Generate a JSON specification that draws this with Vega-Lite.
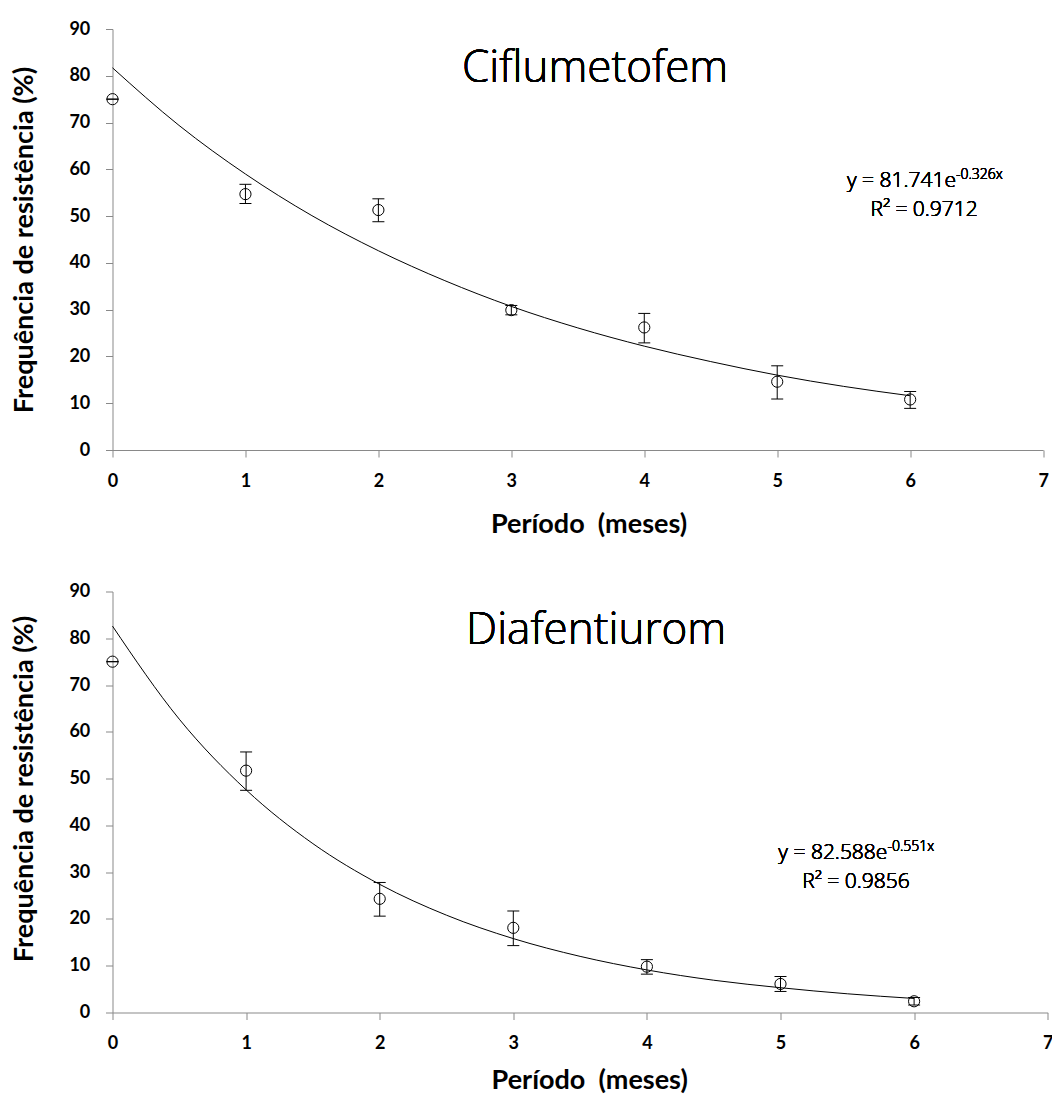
{
  "$schema": "https://vega.github.io/schema/vega-lite/v6.json",
  "padding": {"left": 9.5, "top": 20, "right": 0, "bottom": 0},
  "bounds": "flush",
  "spacing": 141.5,
  "datasets": {
    "cif_pts": [
      {"x": 0, "y": 75.0, "lo": 75.0, "hi": 75.0},
      {"x": 1, "y": 54.7, "lo": 52.7, "hi": 56.8},
      {"x": 2, "y": 51.3, "lo": 48.8, "hi": 53.7},
      {"x": 3, "y": 29.9, "lo": 28.9, "hi": 30.9},
      {"x": 4, "y": 26.2, "lo": 22.9, "hi": 29.2},
      {"x": 5, "y": 14.6, "lo": 10.9, "hi": 18.0},
      {"x": 6, "y": 10.8, "lo": 8.9, "hi": 12.5}
    ],
    "cif_fit": [
      {"x": 0, "fit": 81.7}, {"x": 0.5, "fit": 69.4}, {"x": 1, "fit": 59.0},
      {"x": 1.5, "fit": 50.1}, {"x": 2, "fit": 42.6}, {"x": 2.5, "fit": 36.2},
      {"x": 3, "fit": 30.7}, {"x": 3.5, "fit": 26.1}, {"x": 4, "fit": 22.2},
      {"x": 4.5, "fit": 18.9}, {"x": 5, "fit": 16.0}, {"x": 5.5, "fit": 13.6},
      {"x": 6, "fit": 11.6}
    ],
    "dia_pts": [
      {"x": 0, "y": 75.0, "lo": 75.0, "hi": 75.0},
      {"x": 1, "y": 51.7, "lo": 47.5, "hi": 55.7},
      {"x": 2, "y": 24.3, "lo": 20.6, "hi": 27.8},
      {"x": 3, "y": 18.1, "lo": 14.3, "hi": 21.7},
      {"x": 4, "y": 9.8, "lo": 8.2, "hi": 11.3},
      {"x": 5, "y": 6.1, "lo": 4.5, "hi": 7.7},
      {"x": 6, "y": 2.4, "lo": 1.6, "hi": 3.2}
    ],
    "dia_fit": [
      {"x": 0, "fit": 82.6}, {"x": 0.5, "fit": 62.7}, {"x": 1, "fit": 47.6},
      {"x": 1.5, "fit": 36.1}, {"x": 2, "fit": 27.4}, {"x": 2.5, "fit": 20.8},
      {"x": 3, "fit": 15.8}, {"x": 3.5, "fit": 12.0}, {"x": 4, "fit": 9.1},
      {"x": 4.5, "fit": 6.9}, {"x": 5, "fit": 5.3}, {"x": 5.5, "fit": 4.0},
      {"x": 6, "fit": 3.0}
    ]
  },
  "vconcat": [
    {
      "width": 930.6,
      "height": 421,
      "layer": [
        {
          "data": {"name": "cif_fit"},
          "mark": {"type": "line", "interpolate": "monotone", "color": "#000000", "strokeWidth": 1},
          "encoding": {
            "x": {"field": "x", "type": "quantitative", "scale": {"domain": [0, 7], "nice": false},
              "axis": {"values": [0, 1, 2, 3, 4, 5, 6, 7], "format": "d", "title": "Período\u00a0 (meses)", "titleX": 476, "titleY": 82.6, "titleBaseline": "alphabetic", "titleAlign": "center", "labelPadding": 24.8}},
            "y": {"field": "fit", "type": "quantitative", "scale": {"domain": [0, 90], "nice": false},
              "axis": {"values": [0, 10, 20, 30, 40, 50, 60, 70, 80, 90], "format": "d", "title": "Frequência de resistência (%)", "titleX": -88.2, "titleY": 210.5, "titleAngle": 270, "titleBaseline": "middle", "titleAlign": "center"}}
          }
        },
        {
          "data": {"name": "cif_pts"},
          "mark": {"type": "rule", "color": "#000000", "strokeWidth": 1},
          "encoding": {
            "x": {"field": "x", "type": "quantitative"},
            "y": {"field": "lo", "type": "quantitative"},
            "y2": {"field": "hi"}
          }
        },
        {
          "data": {"name": "cif_pts"},
          "mark": {"type": "tick", "orient": "horizontal", "size": 12, "thickness": 1, "color": "#000000", "opacity": 1},
          "encoding": {
            "x": {"field": "x", "type": "quantitative"},
            "y": {"field": "lo", "type": "quantitative"}
          }
        },
        {
          "data": {"name": "cif_pts"},
          "mark": {"type": "tick", "orient": "horizontal", "size": 12, "thickness": 1, "color": "#000000", "opacity": 1},
          "encoding": {
            "x": {"field": "x", "type": "quantitative"},
            "y": {"field": "hi", "type": "quantitative"}
          }
        },
        {
          "data": {"name": "cif_pts"},
          "mark": {"type": "point", "shape": "circle", "filled": false, "size": 125, "stroke": "#000000", "strokeWidth": 1, "opacity": 1},
          "encoding": {
            "x": {"field": "x", "type": "quantitative"},
            "y": {"field": "y", "type": "quantitative"}
          }
        },
        {
          "data": {"name": "cif_pts"},
          "mark": {"type": "text", "font": "Open Sans", "fontWeight": 300, "fontSize": 44, "align": "center", "baseline": "alphabetic", "color": "#000000"},
          "encoding": {
            "x": {"datum": 3.63, "type": "quantitative"},
            "y": {"datum": 78.6, "type": "quantitative"},
            "text": {"value": "Ciflumetofem"}
          }
        },
        {
          "data": {"name": "cif_pts"},
          "mark": {"type": "text", "font": "Open Sans", "fontWeight": 300, "fontSize": 21, "align": "right", "baseline": "alphabetic", "color": "#000000"},
          "encoding": {
            "x": {"datum": 6.345, "type": "quantitative"},
            "y": {"datum": 56.2, "type": "quantitative"},
            "text": {"value": "y = 81.741e"}
          }
        },
        {
          "data": {"name": "cif_pts"},
          "mark": {"type": "text", "font": "Open Sans", "fontWeight": 300, "fontSize": 14, "align": "left", "baseline": "alphabetic", "color": "#000000"},
          "encoding": {
            "x": {"datum": 6.345, "type": "quantitative"},
            "y": {"datum": 58.0, "type": "quantitative"},
            "text": {"value": "-0.326x"}
          }
        },
        {
          "data": {"name": "cif_pts"},
          "mark": {"type": "text", "font": "Open Sans", "fontWeight": 300, "fontSize": 21, "align": "center", "baseline": "alphabetic", "color": "#000000"},
          "encoding": {
            "x": {"datum": 6.105, "type": "quantitative"},
            "y": {"datum": 50.1, "type": "quantitative"},
            "text": {"value": "R² = 0.9712"}
          }
        }
      ]
    },
    {
      "width": 935.2,
      "height": 421,
      "layer": [
        {
          "data": {"name": "dia_fit"},
          "mark": {"type": "line", "interpolate": "monotone", "color": "#000000", "strokeWidth": 1},
          "encoding": {
            "x": {"field": "x", "type": "quantitative", "scale": {"domain": [0, 7], "nice": false},
              "axis": {"values": [0, 1, 2, 3, 4, 5, 6, 7], "format": "d", "title": "Período\u00a0 (meses)", "titleX": 476.7, "titleY": 76, "titleBaseline": "alphabetic", "titleAlign": "center", "labelPadding": 23.8}},
            "y": {"field": "fit", "type": "quantitative", "scale": {"domain": [0, 90], "nice": false},
              "axis": {"values": [0, 10, 20, 30, 40, 50, 60, 70, 80, 90], "format": "d", "title": "Frequência de resistência (%)", "titleX": -88.2, "titleY": 197, "titleAngle": 270, "titleBaseline": "middle", "titleAlign": "center"}}
          }
        },
        {
          "data": {"name": "dia_pts"},
          "mark": {"type": "rule", "color": "#000000", "strokeWidth": 1},
          "encoding": {
            "x": {"field": "x", "type": "quantitative"},
            "y": {"field": "lo", "type": "quantitative"},
            "y2": {"field": "hi"}
          }
        },
        {
          "data": {"name": "dia_pts"},
          "mark": {"type": "tick", "orient": "horizontal", "size": 12, "thickness": 1, "color": "#000000", "opacity": 1},
          "encoding": {
            "x": {"field": "x", "type": "quantitative"},
            "y": {"field": "lo", "type": "quantitative"}
          }
        },
        {
          "data": {"name": "dia_pts"},
          "mark": {"type": "tick", "orient": "horizontal", "size": 12, "thickness": 1, "color": "#000000", "opacity": 1},
          "encoding": {
            "x": {"field": "x", "type": "quantitative"},
            "y": {"field": "hi", "type": "quantitative"}
          }
        },
        {
          "data": {"name": "dia_pts"},
          "mark": {"type": "point", "shape": "circle", "filled": false, "size": 125, "stroke": "#000000", "strokeWidth": 1, "opacity": 1},
          "encoding": {
            "x": {"field": "x", "type": "quantitative"},
            "y": {"field": "y", "type": "quantitative"}
          }
        },
        {
          "data": {"name": "dia_pts"},
          "mark": {"type": "text", "font": "Open Sans", "fontWeight": 300, "fontSize": 44, "align": "center", "baseline": "alphabetic", "color": "#000000"},
          "encoding": {
            "x": {"datum": 3.62, "type": "quantitative"},
            "y": {"datum": 78.8, "type": "quantitative"},
            "text": {"value": "Diafentiurom"}
          }
        },
        {
          "data": {"name": "dia_pts"},
          "mark": {"type": "text", "font": "Open Sans", "fontWeight": 300, "fontSize": 21, "align": "right", "baseline": "alphabetic", "color": "#000000"},
          "encoding": {
            "x": {"datum": 5.8, "type": "quantitative"},
            "y": {"datum": 32.8, "type": "quantitative"},
            "text": {"value": "y = 82.588e"}
          }
        },
        {
          "data": {"name": "dia_pts"},
          "mark": {"type": "text", "font": "Open Sans", "fontWeight": 300, "fontSize": 14, "align": "left", "baseline": "alphabetic", "color": "#000000"},
          "encoding": {
            "x": {"datum": 5.8, "type": "quantitative"},
            "y": {"datum": 34.6, "type": "quantitative"},
            "text": {"value": "-0.551x"}
          }
        },
        {
          "data": {"name": "dia_pts"},
          "mark": {"type": "text", "font": "Open Sans", "fontWeight": 300, "fontSize": 21, "align": "center", "baseline": "alphabetic", "color": "#000000"},
          "encoding": {
            "x": {"datum": 5.565, "type": "quantitative"},
            "y": {"datum": 26.7, "type": "quantitative"},
            "text": {"value": "R² = 0.9856"}
          }
        }
      ]
    }
  ],
  "config": {
    "view": {"stroke": null},
    "axis": {
      "grid": false,
      "domainColor": "#898989",
      "tickColor": "#898989",
      "tickSize": 7,
      "labelFont": "Lato",
      "labelFontWeight": "bold",
      "labelFontSize": 18,
      "labelColor": "#000000",
      "titleFont": "Lato",
      "titleFontWeight": "bold",
      "titleFontSize": 27,
      "titleColor": "#000000",
      "labelFlush": false,
      "labelOverlap": false
    },
    "axisX": {"labelBaseline": "middle"},
    "axisY": {"labelPadding": 15.7}
  }
}
